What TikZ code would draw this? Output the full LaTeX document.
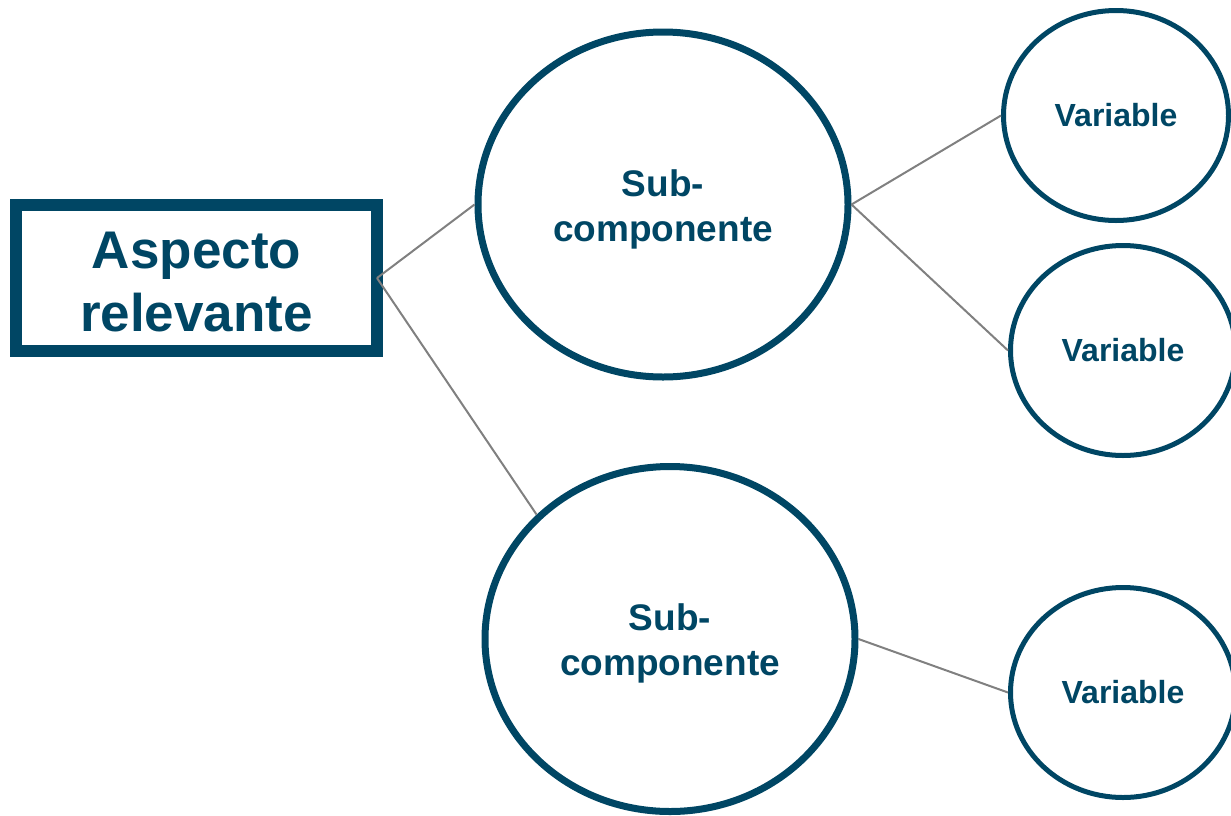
\documentclass[tikz,border=0pt]{standalone}
\usepackage{fontspec}
\setmainfont{Liberation Sans}
\usepackage{tikz}
\usetikzlibrary{shapes,arrows}
\definecolor{petrol}{RGB}{0,70,100}

\begin{document}
\begin{tikzpicture}[x=0.5pt,y=-0.5pt,auto]
\tikzstyle{aspect}=[draw=petrol, line width=6pt, text=petrol, minimum width=180.5pt,
minimum height=73pt, inner sep=0pt, outer sep=0pt, align=center,
font=\bfseries\fontsize{26.5}{31.5}\selectfont]
\tikzstyle{subc}=[ellipse, draw=petrol, line width=3.5pt, text=petrol, inner sep=0pt,
minimum width=185pt, minimum height=172.5pt, align=center,
font=\bfseries\fontsize{18.5}{22.5}\selectfont]
\tikzstyle{var}=[ellipse, draw=petrol, line width=2.5pt, text=petrol, inner sep=0pt,
minimum width=112.5pt, minimum height=105pt,
font=\bfseries\fontsize{16}{18}\selectfont]
\tikzstyle{link}=[draw, gray, line width=1pt]

\useasboundingbox (0,0) rectangle (1231,815);

\node (asp) [aspect] at (196.5,278) {\rule{0pt}{22.5pt}Aspecto\\relevante};
\path (asp.center)+(466.5,-73.5) node (subA) [subc] {\rule{0pt}{18pt}Sub-\\componente};
\path (subA.center)+(7,434.5) node (subB) [subc] {\rule{0pt}{18pt}Sub-\\componente};
\path (subA.center)+(453,-89) node (varA) [var] {Variable};
\path (subA.center)+(460,146) node (varB) [var] {Variable};
\path (subB.center)+(453,53.5) node (varC) [var] {Variable};

\path [link] (asp.east) -- (subA.west);
\path [link] (asp.east) -- (subB.137);
\path [link] (subA.east) -- (varA.west);
\path [link] (subA.east) -- (varB.west);
\path [link] (subB.east) -- (varC.west);
\end{tikzpicture}
\end{document}
